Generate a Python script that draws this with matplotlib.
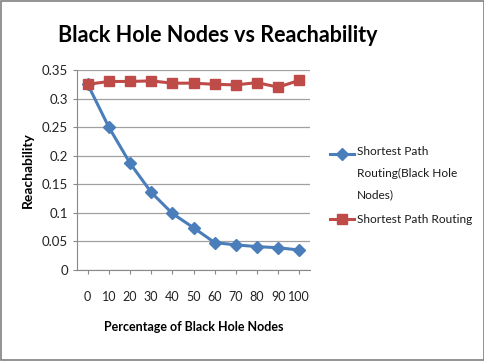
import matplotlib
matplotlib.use("Agg")
import matplotlib.pyplot as plt
from matplotlib.patches import Rectangle
from matplotlib.legend_handler import HandlerLine2D

categories = ["0", "10", "20", "30", "40", "50", "60", "70", "80", "90", "100"]
black_hole = [0.325, 0.25, 0.187, 0.136, 0.099, 0.074, 0.048, 0.044, 0.041, 0.039, 0.035]
shortest = [0.325, 0.33, 0.33, 0.331, 0.327, 0.327, 0.325, 0.324, 0.328, 0.32, 0.332]
yticks = [0, 0.05, 0.1, 0.15, 0.2, 0.25, 0.3, 0.35]
ytick_labels = ["0", "0.05", "0.1", "0.15", "0.2", "0.25", "0.3", "0.35"]

plt.rcParams['font.family'] = ['Lato', 'DejaVu Sans']


class ShiftedLineHandler(HandlerLine2D):
    """Line handler whose artist is raised by `shift` points (aligns with first text line)."""
    def __init__(self, shift=0.0, **kw):
        super().__init__(**kw)
        self.shift = shift

    def create_artists(self, legend, orig_handle, xdescent, ydescent, width, height,
                       fontsize, trans):
        return super().create_artists(legend, orig_handle, xdescent,
                                      ydescent - 2 * self.shift, width, height,
                                      fontsize, trans)


fig = plt.figure(figsize=(4.85, 3.61), dpi=100)
fig.patches.append(Rectangle((0.002, 0.003), 0.995, 0.994, transform=fig.transFigure,
                             fill=False, edgecolor='#808080', linewidth=1.2))
ax = fig.add_axes([0.159, 0.252, 0.48, 0.554])
x = list(range(len(categories)))
l1, = ax.plot(x, black_hole, color='#4a7ebb', marker='D', markersize=6, linewidth=2.2,
              label='Shortest Path\nRouting(Black Hole\nNodes)', zorder=3)
l2, = ax.plot(x, shortest, color='#be4b48', marker='s', markersize=7, linewidth=2.2,
              label='Shortest Path Routing', zorder=3)
ax.set_xlim(-0.5, len(categories) - 0.5)
ax.set_ylim(0, 0.35)
ax.set_yticks(yticks)
ax.set_yticklabels(ytick_labels)
ax.set_xticks(x)
ax.set_xticklabels(categories)
ax.grid(axis='y', color='#a0a0a0', linewidth=0.9)
ax.set_axisbelow(True)
for s in ['top', 'right']:
    ax.spines[s].set_visible(False)
for s in ['left', 'bottom']:
    ax.spines[s].set_color('#888888')
ax.tick_params(axis='both', colors='#888888', labelcolor='#222222', labelsize=9.5, length=3)
ax.tick_params(axis='x', pad=12, labelsize=9)
ax.set_ylabel('Reachability', fontsize=10, fontweight='bold', labelpad=6)
ax.set_xlabel('Percentage of Black Hole Nodes', fontsize=9, fontweight='bold', labelpad=13)
fig.text(0.45, 0.902, 'Black Hole Nodes vs Reachability', fontsize=15.5, fontweight='bold',
         ha='center', va='center')
fs = 8.6
ls = 2.2
leg = ax.legend(loc='upper left', bbox_to_anchor=(1.065, 0.645), frameon=False,
                prop={'size': fs}, handlelength=2.0, labelspacing=1.15, handletextpad=0.3,
                borderaxespad=0,
                handler_map={l1: ShiftedLineHandler(shift=1.62 * fs)})
for t in leg.texts:
    t.set_color('#1a1a1a')
    t.set_linespacing(ls)
fig.savefig('out.png', dpi=100)
